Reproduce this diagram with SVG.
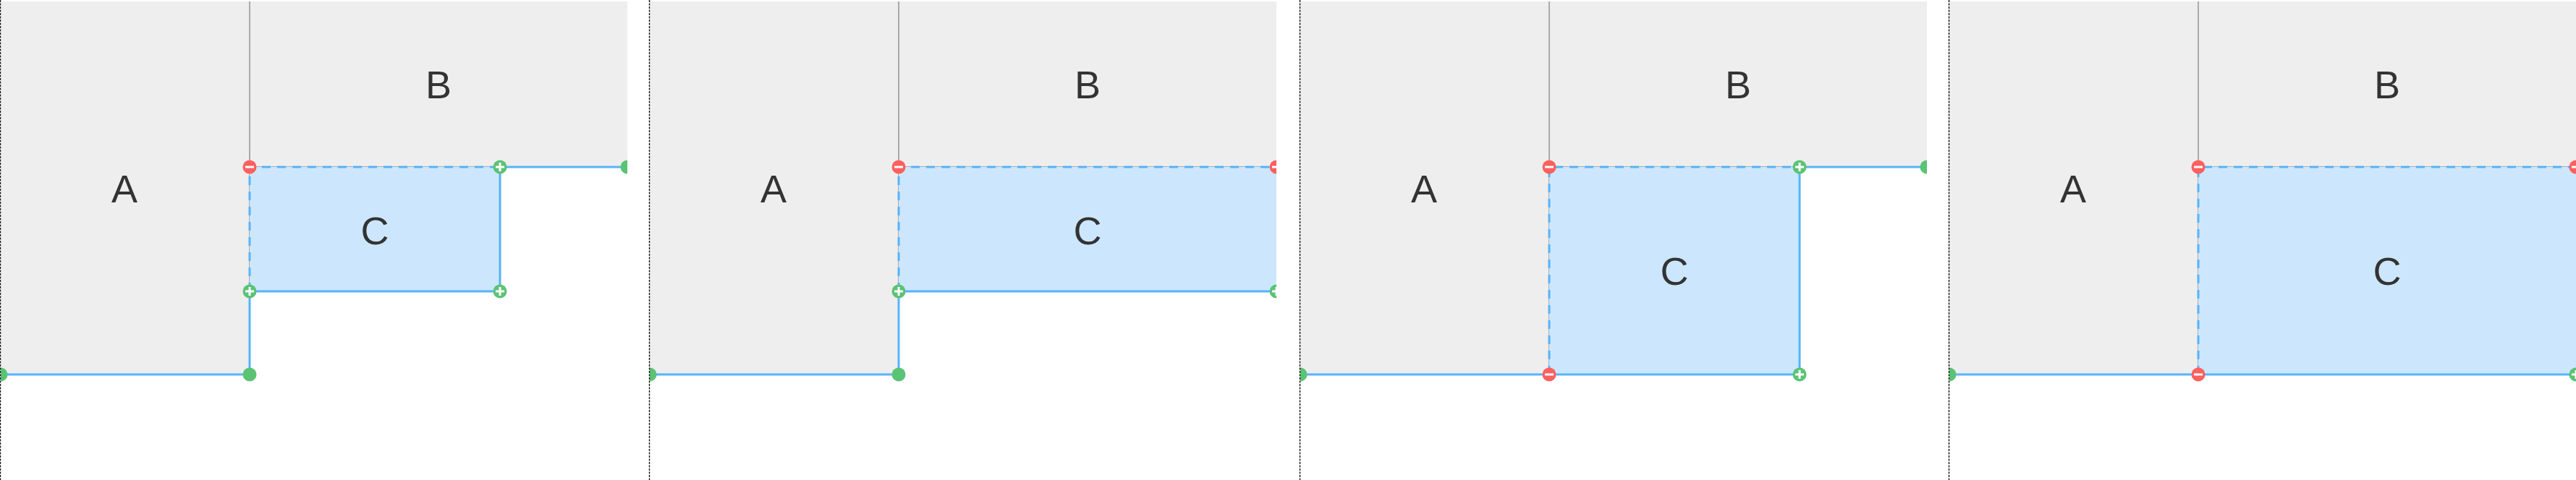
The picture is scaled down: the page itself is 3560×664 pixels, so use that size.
<svg xmlns="http://www.w3.org/2000/svg" xmlns:xlink="http://www.w3.org/1999/xlink" width="3560" height="664" viewBox="0 0 3560 664">
<style>
.bg{fill:#ffffff}
.grey{fill:#eeeeee}
.gline{stroke:#aaaaaa;stroke-width:2;fill:none}
.cfill{fill:#cce7fd}
.blue{stroke:#57b3fa;stroke-width:3;fill:none}
.bdash{stroke:#57b3fa;stroke-width:3;fill:none;stroke-dasharray:12 9}
.sep{stroke:#111111;stroke-width:1.4;stroke-dasharray:3 1.5;fill:none}
.lbl{font-family:"Liberation Sans",Arial,sans-serif;font-size:54px;fill:#333333;text-anchor:middle}
</style>
<defs>
<clipPath id="clip"><rect x="1" y="0" width="866" height="664"/></clipPath>
<g id="dot"><circle r="9.5" fill="#5bc374"/></g>
<g id="plus"><circle r="9.5" fill="#5bc374"/><path d="M-6 0H6M0 -6V6" stroke="#ffffff" stroke-width="3"/></g>
<g id="minus"><circle r="9.5" fill="#ff5f5f"/><path d="M-6 0H6" stroke="#ffffff" stroke-width="3"/></g>
</defs>
<rect class="bg" x="0" y="0" width="3560" height="664"/>

<!-- Panel 1 -->
<g id="panel1" transform="translate(0,0)">
<g clip-path="url(#clip)">
<g id="p1-A"><rect class="grey" x="1" y="2" width="344" height="516"/><text class="lbl" x="172" y="280">A</text></g>
<g id="p1-B"><rect class="grey" x="345" y="2" width="522" height="229"/><text class="lbl" x="606" y="136">B</text></g>
<path class="gline" d="M345 2V518M345 231H867"/>
<g id="p1-C"><rect class="cfill" x="345" y="231" width="346" height="172"/><text class="lbl" x="518" y="338">C</text></g>
<g id="p1-connectors">
<path class="blue" d="M0 518H345V403H691V231H867"/>
<path class="bdash" d="M345 403V231H691"/>
</g>
<use xlink:href="#dot" x="1" y="518"/>
<use xlink:href="#dot" x="345" y="518"/>
<use xlink:href="#dot" x="867" y="231"/>
<use xlink:href="#minus" x="345" y="231"/>
<use xlink:href="#plus" x="691" y="231"/>
<use xlink:href="#plus" x="345" y="403"/>
<use xlink:href="#plus" x="691" y="403"/>
</g>
<line class="sep" x1="0.5" y1="0" x2="0.5" y2="664"/>
</g>

<!-- Panel 2 -->
<g id="panel2" transform="translate(897,0)">
<g clip-path="url(#clip)">
<g id="p2-A"><rect class="grey" x="1" y="2" width="344" height="516"/><text class="lbl" x="172" y="280">A</text></g>
<g id="p2-B"><rect class="grey" x="345" y="2" width="522" height="229"/><text class="lbl" x="606" y="136">B</text></g>
<path class="gline" d="M345 2V518M345 231H867"/>
<g id="p2-C"><rect class="cfill" x="345" y="231" width="522" height="172"/><text class="lbl" x="606" y="338">C</text></g>
<g id="p2-connectors">
<path class="blue" d="M0 518H345V403H867"/>
<path class="bdash" d="M345 403V231H867"/>
</g>
<use xlink:href="#dot" x="1" y="518"/>
<use xlink:href="#dot" x="345" y="518"/>
<use xlink:href="#minus" x="345" y="231"/>
<use xlink:href="#minus" x="867" y="231"/>
<use xlink:href="#plus" x="345" y="403"/>
<use xlink:href="#plus" x="867" y="403"/>
</g>
<line class="sep" x1="0.5" y1="0" x2="0.5" y2="664"/>
</g>

<!-- Panel 3 -->
<g id="panel3" transform="translate(1796,0)">
<g clip-path="url(#clip)">
<g id="p3-A"><rect class="grey" x="1" y="2" width="344" height="516"/><text class="lbl" x="172" y="280">A</text></g>
<g id="p3-B"><rect class="grey" x="345" y="2" width="522" height="229"/><text class="lbl" x="606" y="136">B</text></g>
<path class="gline" d="M345 2V518M345 231H867"/>
<g id="p3-C"><rect class="cfill" x="345" y="231" width="346" height="287"/><text class="lbl" x="518" y="394">C</text></g>
<g id="p3-connectors">
<path class="blue" d="M0 518H691V231H867"/>
<path class="bdash" d="M345 518V231H691"/>
</g>
<use xlink:href="#dot" x="1" y="518"/>
<use xlink:href="#dot" x="867" y="231"/>
<use xlink:href="#minus" x="345" y="231"/>
<use xlink:href="#plus" x="691" y="231"/>
<use xlink:href="#minus" x="345" y="518"/>
<use xlink:href="#plus" x="691" y="518"/>
</g>
<line class="sep" x1="0.5" y1="0" x2="0.5" y2="664"/>
</g>

<!-- Panel 4 -->
<g id="panel4" transform="translate(2693,0)">
<g clip-path="url(#clip)">
<g id="p4-A"><rect class="grey" x="1" y="2" width="344" height="516"/><text class="lbl" x="172" y="280">A</text></g>
<g id="p4-B"><rect class="grey" x="345" y="2" width="522" height="229"/><text class="lbl" x="606" y="136">B</text></g>
<path class="gline" d="M345 2V518M345 231H867"/>
<g id="p4-C"><rect class="cfill" x="345" y="231" width="522" height="287"/><text class="lbl" x="606" y="394">C</text></g>
<g id="p4-connectors">
<path class="blue" d="M0 518H867"/>
<path class="bdash" d="M345 518V231H867"/>
</g>
<use xlink:href="#dot" x="1" y="518"/>
<use xlink:href="#minus" x="345" y="231"/>
<use xlink:href="#minus" x="867" y="231"/>
<use xlink:href="#minus" x="345" y="518"/>
<use xlink:href="#plus" x="867" y="518"/>
</g>
<line class="sep" x1="0.5" y1="0" x2="0.5" y2="664"/>
</g>
</svg>
